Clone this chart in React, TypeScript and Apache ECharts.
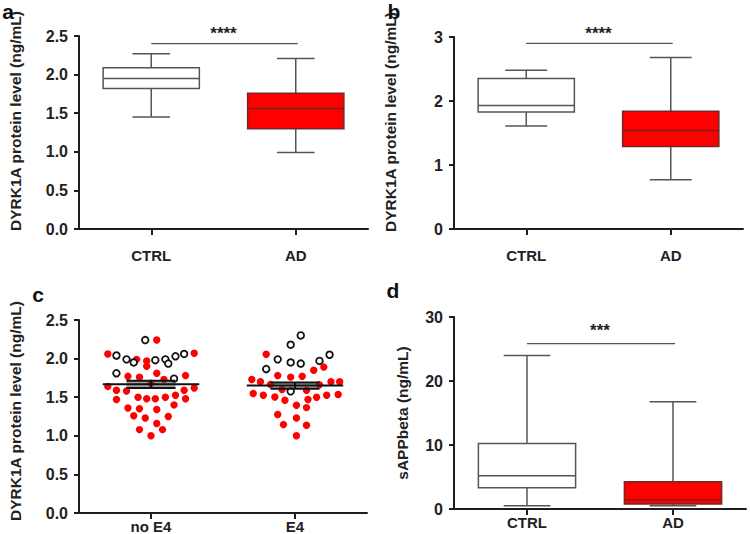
import React, { useEffect, useRef } from 'react';
import * as echarts from 'echarts';

// ---------- data ----------
const boxCategories = ['CTRL', 'AD'];
const scatterCategories = ['no E4', 'E4'];

// box stats: [min, Q1, median, Q3, max]
const panelACtrl = [1.45, 1.82, 1.95, 2.09, 2.27];
const panelAAd = [0.99, 1.3, 1.56, 1.76, 2.21];
const panelBCtrl = [1.61, 1.83, 1.93, 2.35, 2.48];
const panelBAd = [0.77, 1.29, 1.54, 1.84, 2.68];
const panelDCtrl = [0.52, 3.33, 5.2, 10.24, 24.0];
const panelDAd = [0.5, 0.78, 1.4, 4.26, 16.74];

// significance bars: [fromCat, toCat, level]
const sigA = [0, 1, 2.4];
const sigB = [0, 1, 2.9];
const sigD = [0, 1, 25.85];
const starsA = '****';
const starsB = '****';
const starsD = '***';

// panel c: [beeswarm offset (fraction of band), value]
const noE4Open = [
  [-0.04, 2.24], [-0.24, 2.04], [-0.17, 1.99], [-0.12, 1.95], [0.03, 1.98], [0.1, 1.99],
  [0.12, 1.935], [0.17, 2.03], [0.23, 2.06], [-0.24, 1.81], [0.16, 1.74],
];
const noE4Red = [
  [0.04, 2.24], [-0.3, 2.06], [0.3, 2.07], [-0.1, 1.99], [-0.03, 1.97], [-0.03, 1.9],
  [0.04, 1.81], [-0.16, 1.77], [-0.08, 1.76], [0.09, 1.73], [0.24, 1.78], [-0.3, 1.64],
  [0.0, 1.68], [-0.24, 1.59], [-0.17, 1.58], [0.23, 1.59], [0.3, 1.62], [-0.09, 1.5],
  [-0.03, 1.48], [0.03, 1.48], [0.1, 1.5], [0.17, 1.525], [-0.24, 1.47], [0.24, 1.48],
  [-0.16, 1.36], [-0.08, 1.35], [0.04, 1.34], [0.16, 1.4], [-0.12, 1.26], [-0.04, 1.23],
  [0.12, 1.25], [0.04, 1.16], [-0.08, 1.08], [0.08, 1.08], [0.0, 1.0],
];
const e4Open = [
  [0.04, 2.3], [-0.03, 2.18], [-0.12, 1.99], [-0.03, 1.95], [0.04, 1.935], [0.17, 1.97],
  [0.24, 2.05], [-0.2, 1.865], [-0.03, 1.576],
];
const e4Red = [
  [-0.2, 2.056], [0.2, 1.89], [0.13, 1.85], [-0.12, 1.78], [-0.03, 1.76], [0.05, 1.77],
  [-0.3, 1.73], [-0.24, 1.7], [0.25, 1.7], [0.31, 1.7], [-0.17, 1.665], [0.17, 1.66],
  [-0.09, 1.6], [0.08, 1.59], [-0.29, 1.547], [-0.22, 1.525], [-0.14, 1.503], [-0.07, 1.46],
  [0.09, 1.47], [0.15, 1.5], [0.22, 1.525], [0.3, 1.534], [0.01, 1.395], [0.08, 1.365],
  [-0.12, 1.275], [0.01, 1.23], [-0.08, 1.145], [0.08, 1.136], [0.01, 1.0],
];
// mean and SEM per group
const meansC = [1.667, 1.65];
const semsC = [0.047, 0.04];

// ---------- helpers ----------
const FONT = '"Liberation Sans", Arial, Helvetica, sans-serif';
const AXIS_COLOR = '#1e1e1e';
const LINE_GREY = '#555';

const makeBoxRender = (capFrac: number) => (params: any, api: any) => {
  const cat = api.value(0);
  const mn = api.coord([cat, api.value(1)]);
  const q1 = api.coord([cat, api.value(2)]);
  const md = api.coord([cat, api.value(3)]);
  const q3 = api.coord([cat, api.value(4)]);
  const mx = api.coord([cat, api.value(5)]);
  const band = api.size([1, 0])[0];
  const cx = mn[0];
  const hw = band * 0.333;
  const cw = (band * capFrac) / 2;
  const filled = api.value(6) === 1;
  const ls = { stroke: LINE_GREY, lineWidth: 1.5 };
  return {
    type: 'group',
    children: [
      { type: 'line', shape: { x1: cx, y1: q3[1], x2: cx, y2: mx[1] }, style: ls },
      { type: 'line', shape: { x1: cx - cw, y1: mx[1], x2: cx + cw, y2: mx[1] }, style: ls },
      { type: 'line', shape: { x1: cx, y1: q1[1], x2: cx, y2: mn[1] }, style: ls },
      { type: 'line', shape: { x1: cx - cw, y1: mn[1], x2: cx + cw, y2: mn[1] }, style: ls },
      {
        type: 'rect',
        shape: { x: cx - hw, y: q3[1], width: hw * 2, height: q1[1] - q3[1] },
        style: { fill: filled ? '#ff0000' : '#ffffff', stroke: filled ? '#6e2a2a' : LINE_GREY, lineWidth: 1.5 },
      },
      {
        type: 'line',
        shape: { x1: cx - hw, y1: md[1], x2: cx + hw, y2: md[1] },
        style: { stroke: filled ? '#7a1f1f' : LINE_GREY, lineWidth: 1.5 },
      },
    ],
  };
};

const makeSigRender = (stars: string, starOffset: number) => (params: any, api: any) => {
  const p0 = api.coord([api.value(0), api.value(2)]);
  const p1 = api.coord([api.value(1), api.value(2)]);
  return {
    type: 'group',
    children: [
      { type: 'line', shape: { x1: p0[0], y1: p0[1], x2: p1[0] + 2, y2: p1[1] }, style: { stroke: LINE_GREY, lineWidth: 1.3 } },
      {
        type: 'text',
        x: (p0[0] + p1[0]) / 2,
        y: p0[1] - starOffset,
        style: { text: stars, fill: '#222', fontSize: 17, fontWeight: 'bold', fontFamily: FONT, align: 'center', verticalAlign: 'middle' },
      },
    ],
  };
};

const makeDotRender = (open: boolean) => (params: any, api: any) => {
  const cat = api.value(0);
  const p = api.coord([cat, api.value(2)]);
  const band = api.size([1, 0])[0];
  const cx = p[0] + api.value(1) * band;
  return open
    ? { type: 'circle', shape: { cx, cy: p[1], r: 3.3 }, style: { fill: '#ffffff', stroke: '#111', lineWidth: 1.8 } }
    : { type: 'circle', shape: { cx, cy: p[1], r: 3.7 }, style: { fill: '#ff0000' } };
};

const meanRender = (params: any, api: any) => {
  const cat = api.value(0);
  const m = api.coord([cat, api.value(1)]);
  const hi = api.coord([cat, api.value(1) + api.value(2)]);
  const lo = api.coord([cat, api.value(1) - api.value(2)]);
  const band = api.size([1, 0])[0];
  const cx = m[0];
  const hw = band * 0.335;
  const sw = band * 0.17;
  const st = { stroke: '#111', lineWidth: 2 };
  return {
    type: 'group',
    children: [
      { type: 'rect', shape: { x: cx - sw, y: hi[1], width: sw * 2, height: lo[1] - hi[1] }, style: { fill: 'rgba(90,90,90,0.55)' } },
      { type: 'line', shape: { x1: cx - sw, y1: hi[1], x2: cx + sw, y2: hi[1] }, style: st },
      { type: 'line', shape: { x1: cx - sw, y1: lo[1], x2: cx + sw, y2: lo[1] }, style: st },
      { type: 'line', shape: { x1: cx, y1: hi[1], x2: cx, y2: lo[1] }, style: st },
      { type: 'line', shape: { x1: cx - hw, y1: m[1], x2: cx + hw, y2: m[1] }, style: st },
    ],
  };
};

const xAxisDef = (gridIndex: number, data: string[], margin: number) => ({
  type: 'category',
  gridIndex,
  data,
  boundaryGap: true,
  axisLine: { show: true, lineStyle: { color: AXIS_COLOR, width: 2 } },
  axisTick: { show: true, alignWithLabel: true, length: 6, lineStyle: { color: AXIS_COLOR, width: 2 } },
  axisLabel: { margin, fontSize: 15, fontWeight: 'bold', color: '#222', fontFamily: FONT },
  splitLine: { show: false },
});

const yAxisDef = (gridIndex: number, min: number, max: number, interval: number, decimals: number) => ({
  type: 'value',
  gridIndex,
  min,
  max,
  interval,
  axisLine: { show: true, lineStyle: { color: AXIS_COLOR, width: 2 } },
  axisTick: { show: true, length: 5, lineStyle: { color: AXIS_COLOR, width: 2 } },
  axisLabel: {
    margin: 11,
    fontSize: 16,
    fontWeight: 'bold',
    color: '#222',
    fontFamily: FONT,
    formatter: (v: number) => v.toFixed(decimals),
  },
  splitLine: { show: false },
});

const titleText = (x: number, y: number, text: string) => ({
  type: 'text',
  x,
  y,
  rotation: Math.PI / 2,
  style: { text, fill: '#222', fontSize: 15.5, fontWeight: 'bold', fontFamily: FONT, align: 'center', verticalAlign: 'middle' },
});

const letterText = (x: number, y: number, text: string) => ({
  type: 'text',
  x,
  y,
  style: { text, fill: '#111', fontSize: 21, fontWeight: 'bold', fontFamily: FONT, align: 'center', verticalAlign: 'middle' },
});

export default function App() {
  const ref = useRef<HTMLDivElement>(null);
  useEffect(() => {
    if (!ref.current) return;
    const chart = echarts.init(ref.current, null, { renderer: 'svg' });
    const boxData = (ctrl: number[], ad: number[]) => [[0, ...ctrl, 0], [1, ...ad, 1]];
    const dots = (arr: number[][], cat: number) => arr.map((d) => [cat, d[0], d[1]]);
    const option: any = {
      animation: false,
      backgroundColor: '#ffffff',
      grid: [
        { left: 79, top: 36, width: 289, height: 193 },
        { left: 454, top: 37, width: 289, height: 192 },
        { left: 79, top: 320, width: 288, height: 193 },
        { left: 454, top: 317, width: 292, height: 192 },
      ],
      xAxis: [
        xAxisDef(0, boxCategories, 19),
        xAxisDef(1, boxCategories, 19),
        xAxisDef(2, scatterCategories, 6),
        xAxisDef(3, boxCategories, 6),
      ],
      yAxis: [
        yAxisDef(0, 0, 2.5, 0.5, 1),
        yAxisDef(1, 0, 3, 1, 0),
        yAxisDef(2, 0, 2.5, 0.5, 1),
        yAxisDef(3, 0, 30, 10, 0),
      ],
      series: [
        { type: 'custom', xAxisIndex: 0, yAxisIndex: 0, renderItem: makeBoxRender(0.26), data: boxData(panelACtrl, panelAAd), encode: { x: 0, y: [1, 2, 3, 4, 5] } },
        { type: 'custom', xAxisIndex: 0, yAxisIndex: 0, renderItem: makeSigRender(starsA, 10), data: [sigA], encode: { x: 0, y: 2 } },
        { type: 'custom', xAxisIndex: 1, yAxisIndex: 1, renderItem: makeBoxRender(0.29), data: boxData(panelBCtrl, panelBAd), encode: { x: 0, y: [1, 2, 3, 4, 5] } },
        { type: 'custom', xAxisIndex: 1, yAxisIndex: 1, renderItem: makeSigRender(starsB, 10), data: [sigB], encode: { x: 0, y: 2 } },
        { type: 'custom', xAxisIndex: 2, yAxisIndex: 2, renderItem: makeDotRender(false), data: [...dots(noE4Red, 0), ...dots(e4Red, 1)], encode: { x: 0, y: 2 } },
        { type: 'custom', xAxisIndex: 2, yAxisIndex: 2, renderItem: makeDotRender(true), data: [...dots(noE4Open, 0), ...dots(e4Open, 1)], encode: { x: 0, y: 2 } },
        { type: 'custom', xAxisIndex: 2, yAxisIndex: 2, renderItem: meanRender, data: [[0, meansC[0], semsC[0]], [1, meansC[1], semsC[1]]], encode: { x: 0, y: 1 } },
        { type: 'custom', xAxisIndex: 3, yAxisIndex: 3, renderItem: makeBoxRender(0.32), data: boxData(panelDCtrl, panelDAd), encode: { x: 0, y: [1, 2, 3, 4, 5] } },
        { type: 'custom', xAxisIndex: 3, yAxisIndex: 3, renderItem: makeSigRender(starsD, 13), data: [sigD], encode: { x: 0, y: 2 } },
      ],
      graphic: [
        titleText(15, 121, 'DYRK1A protein level (ng/mL)'),
        titleText(390, 122, 'DYRK1A protein level (ng/mL)'),
        titleText(15, 411, 'DYRK1A protein level (ng/mL)'),
        titleText(402, 413, 'sAPPbeta (ng/mL)'),
        letterText(8, 11, 'a'),
        letterText(394, 11, 'b'),
        letterText(38, 294, 'c'),
        letterText(393, 290, 'd'),
      ],
    };
    chart.setOption(option);
    return () => chart.dispose();
  }, []);
  return (
    <div
      ref={ref}
      style={{ position: 'absolute', left: 0, top: 0, width: 750, height: 534, background: '#fff' }}
    />
  );
}
